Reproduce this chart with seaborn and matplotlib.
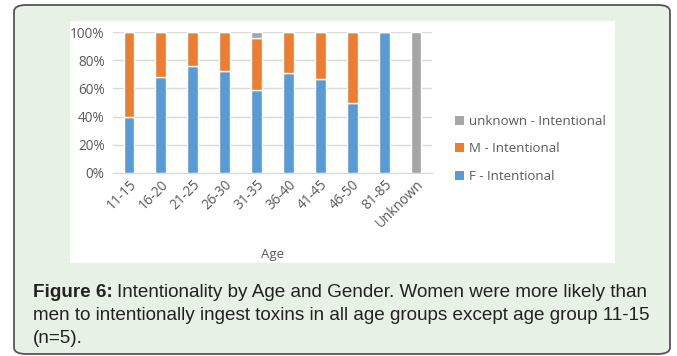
import matplotlib
matplotlib.use("Agg")
import matplotlib.pyplot as plt
from matplotlib.patches import FancyBboxPatch, Rectangle, Patch
from matplotlib.ticker import PercentFormatter
import seaborn as sns
import pandas as pd

# Share of intentional ingestions per age group, split by gender
age_groups = ["11-15", "16-20", "21-25", "26-30", "31-35", "36-40",
              "41-45", "46-50", "81-85", "Unknown"]
female = [0.40, 0.68, 0.76, 0.72, 0.59, 0.71, 0.67, 0.50, 1.00, 0.00]
male = [0.60, 0.32, 0.24, 0.28, 0.37, 0.29, 0.33, 0.50, 0.00, 0.00]
unknown = [0.00, 0.00, 0.00, 0.00, 0.04, 0.00, 0.00, 0.00, 0.00, 1.00]

series_names = ["F - Intentional", "M - Intentional", "unknown - Intentional"]
colors = ["#5b9bd5", "#ed7d31", "#a5a5a5"]

df = pd.DataFrame({"Age": age_groups, "F": female, "M": male, "U": unknown})

sns.set_style("white")
plt.rcParams["font.family"] = ["Open Sans", "DejaVu Sans"]

W, H = 677, 356
fig = plt.figure(figsize=(W / 100, H / 100), dpi=100)
fig.patch.set_facecolor("white")

def fx(px):
    return px / W

def fy(py):
    return 1 - py / H

# Framed light-green panel
frame = FancyBboxPatch((fx(14), fy(354)), fx(670) - fx(14), fy(5) - fy(354),
                       boxstyle="round,pad=0,rounding_size=0.018",
                       transform=fig.transFigure, facecolor="#e8f1e6",
                       edgecolor="#555555", linewidth=1.3, zorder=0)
fig.patches.append(frame)
# White chart area
fig.patches.append(Rectangle((fx(70), fy(263)), fx(615) - fx(70), fy(21) - fy(263),
                             transform=fig.transFigure, facecolor="white",
                             edgecolor="none", zorder=0.5))

ax = fig.add_axes([fx(113), fy(173), fx(432) - fx(113), fy(32) - fy(173)])
ax.set_zorder(2)
ax.set_facecolor("none")

bottom_m = df["F"].values
bottom_u = df["F"].values + df["M"].values
sns.barplot(data=df, x="Age", y="F", color=colors[0], width=0.34,
            saturation=1, ax=ax, zorder=2)
sns.barplot(data=df, x="Age", y="M", color=colors[1], width=0.34,
            saturation=1, ax=ax, bottom=bottom_m, zorder=2)
sns.barplot(data=df, x="Age", y="U", color=colors[2], width=0.34,
            saturation=1, ax=ax, bottom=bottom_u, zorder=2)

ax.set_ylim(0, 1)
ax.set_xlim(-0.5, len(age_groups) - 0.5)
ax.set_yticks([0, 0.2, 0.4, 0.6, 0.8, 1.0])
ax.yaxis.set_major_formatter(PercentFormatter(1.0, decimals=0))
ax.grid(axis="y", color="#d9d9d9", linewidth=1.0, zorder=0)
ax.set_axisbelow(True)
for side in ["top", "right", "left"]:
    ax.spines[side].set_visible(False)
ax.spines["bottom"].set_color("#d9d9d9")
ax.tick_params(axis="both", length=0, colors="#595959", labelsize=9.8)
ax.tick_params(axis="y", pad=6)
ax.tick_params(axis="x", pad=3)
plt.setp(ax.get_xticklabels(), rotation=45, ha="right", rotation_mode="anchor")
ax.set_ylabel("")
ax.set_xlabel("Age", color="#595959", fontsize=9.5, labelpad=12)

handles = [Patch(facecolor=colors[i], edgecolor="none") for i in (2, 1, 0)]
labels = [series_names[i] for i in (2, 1, 0)]
fig.legend(handles, labels, loc="upper left",
           bbox_to_anchor=(fx(443), fy(103)), frameon=False,
           handlelength=0.7, handleheight=0.7, handletextpad=0.4,
           labelspacing=1.1, fontsize=9.5, labelcolor="#595959")

# Caption
cap_font = ["Liberation Sans Narrow", "Liberation Sans", "DejaVu Sans"]
cap_size = 13.6
t1 = fig.text(fx(33), fy(297), "Figure 6:", fontsize=cap_size, fontweight="bold",
              family=cap_font, color="#222222", va="baseline")
fig.canvas.draw()
bb = t1.get_window_extent(fig.canvas.get_renderer())
fig.text(bb.x1 / W + fx(4), fy(297),
         "Intentionality by Age and Gender. Women were more likely than",
         fontsize=cap_size, family=cap_font, color="#222222", va="baseline")
fig.text(fx(33), fy(320),
         "men to intentionally ingest toxins in all age groups except age group 11-15",
         fontsize=cap_size, family=cap_font, color="#222222", va="baseline")
fig.text(fx(33), fy(343), "(n=5).", fontsize=cap_size, family=cap_font,
         color="#222222", va="baseline")

fig.savefig("out.png", dpi=100)
